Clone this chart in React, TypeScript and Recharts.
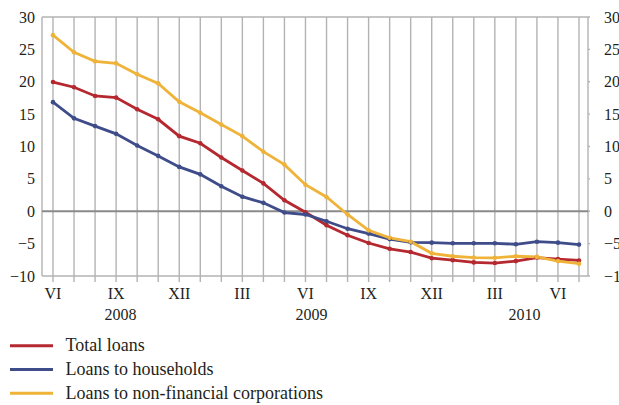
import React from 'react';
import { LineChart, Line, XAxis, YAxis, CartesianGrid, ReferenceLine, Legend } from 'recharts';

const months = ['VI', 'VII', 'VIII', 'IX', 'X', 'XI', 'XII', 'I', 'II', 'III', 'IV', 'V', 'VI', 'VII', 'VIII', 'IX', 'X', 'XI', 'XII', 'I', 'II', 'III', 'IV', 'V', 'VI', 'VII'];
const shownMonths = ['VI', 'IX', 'XII', 'III'];
const years = ['2008', '2009', '2010'];
const yearAt = [3, 12, 22];

const totalLoans = [19.95, 19.15, 17.8, 17.55, 15.75, 14.2, 11.6, 10.5, 8.3, 6.3, 4.3, 1.7, -0.15, -2.15, -3.7, -4.9, -5.8, -6.3, -7.25, -7.55, -7.9, -8.0, -7.7, -7.15, -7.4, -7.6];
const households = [16.85, 14.35, 13.15, 11.95, 10.15, 8.55, 6.85, 5.7, 3.85, 2.25, 1.3, -0.2, -0.5, -1.55, -2.7, -3.45, -4.3, -4.8, -4.85, -4.95, -4.95, -4.95, -5.1, -4.7, -4.85, -5.15];
const corporations = [27.2, 24.55, 23.15, 22.85, 21.15, 19.75, 16.9, 15.2, 13.4, 11.6, 9.2, 7.2, 4.1, 2.2, -0.5, -2.95, -4.1, -4.7, -6.5, -6.95, -7.15, -7.2, -6.95, -7.05, -7.7, -8.1];

const yTicks = [-10, -5, 0, 5, 10, 15, 20, 25, 30];

const series = [
  { key: 'total', name: 'Total loans', color: '#b5282f', values: totalLoans, axis: 'left' },
  { key: 'households', name: 'Loans to households', color: '#3f4c8a', values: households, axis: 'left' },
  { key: 'corporations', name: 'Loans to non-financial corporations', color: '#efb33a', values: corporations, axis: 'right' },
];

const data = months.map((m, i) => {
  const row: any = { idx: i, month: m };
  series.forEach(s => { row[s.key] = s.values[i]; });
  return row;
});

const font = "'Liberation Serif', 'Times New Roman', serif";
const textColor = '#231f20';
const gridColor = '#b3b3b3';
const yearShift = [4.5, 6, 8.5];

const fmt = (v: number) => (v < 0 ? '\u2212' + Math.abs(v) : String(v));

const MonthTick = (props: any) => {
  const { x, y, payload } = props;
  const i = payload.value;
  const m = months[i];
  const yi = yearAt.indexOf(i);
  return (
    <g>
      {shownMonths.includes(m) && (
        <text x={x} y={y} dy="0.71em" textAnchor="middle" style={{ fontFamily: font }} fontSize={16} fill={textColor}>{m}</text>
      )}
      {yi >= 0 && (
        <text x={x + yearShift[yi]} y={y + 21} dy="0.71em" textAnchor="middle" style={{ fontFamily: font }} fontSize={16} fill={textColor}>{years[yi]}</text>
      )}
    </g>
  );
};

const ValueTick = (props: any) => {
  const { x, y, payload, anchor } = props;
  return (
    <text x={x} y={y} dy="0.35em" textAnchor={anchor} style={{ fontFamily: font }} fontSize={16} fill={textColor}>
      {fmt(payload.value)}
    </text>
  );
};

const LegendBox = () => (
  <svg width={619} height={75}>
    {series.map((s, i) => (
      <g key={s.key}>
        <line x1={10} x2={53} y1={15.7 + i * 23.8} y2={15.7 + i * 23.8} stroke={s.color} strokeWidth={3} />
        <text x={65.5} y={15.7 + i * 23.8} dy="0.32em" style={{ fontFamily: font }} fontSize={18} fill={textColor}>{s.name}</text>
      </g>
    ))}
  </svg>
);

const App = () => {
  return (
    <div style={{ position: 'absolute', left: 0, top: 0, width: 619, height: 405, background: '#fff', fontFamily: font }}>
      <LineChart width={619} height={405} data={data} margin={{ top: 0, right: 0, bottom: 0, left: 0 }}>
        <CartesianGrid stroke={gridColor} strokeWidth={1.4} />
        <XAxis
          dataKey="idx"
          interval={0}
          padding={{ left: 11, right: 9 }}
          height={54}
          axisLine={false}
          tickSize={6}
          tickMargin={6}
          tickLine={{ stroke: gridColor, strokeWidth: 1.4 }}
          tick={<MonthTick />}
        />
        <XAxis
          xAxisId="top"
          orientation="top"
          dataKey="idx"
          interval={0}
          padding={{ left: 11, right: 9 }}
          height={17}
          axisLine={false}
          tickSize={8}
          tickLine={{ stroke: gridColor, strokeWidth: 1.4 }}
          tick={false}
        />
        <YAxis
          yAxisId="left"
          domain={[-10, 30]}
          ticks={yTicks}
          width={42}
          axisLine={false}
          tickLine={false}
          tickSize={5}
          tickMargin={2}
          tick={<ValueTick anchor="end" />}
        />
        <YAxis
          yAxisId="right"
          orientation="right"
          domain={[-10, 30]}
          ticks={yTicks}
          width={31}
          axisLine={false}
          tickSize={2}
          tickMargin={14}
          tickLine={{ stroke: gridColor, strokeWidth: 1.4 }}
          tick={<ValueTick anchor="start" />}
        />
        <ReferenceLine yAxisId="left" y={0} stroke="#8a8a8a" strokeWidth={2.2} />
        {series.map(s => (
          <Line
            key={s.key}
            yAxisId={s.axis}
            dataKey={s.key}
            name={s.name}
            stroke={s.color}
            strokeWidth={2.8}
            dot={{ r: 2.3, fill: s.color, stroke: s.color, strokeWidth: 0 }}
            isAnimationActive={false}
          />
        ))}
        <Legend
          verticalAlign="bottom"
          align="left"
          content={<LegendBox />}
          wrapperStyle={{ left: 0, top: 330, width: 619, height: 75 }}
        />
      </LineChart>
    </div>
  );
};

export default App;
